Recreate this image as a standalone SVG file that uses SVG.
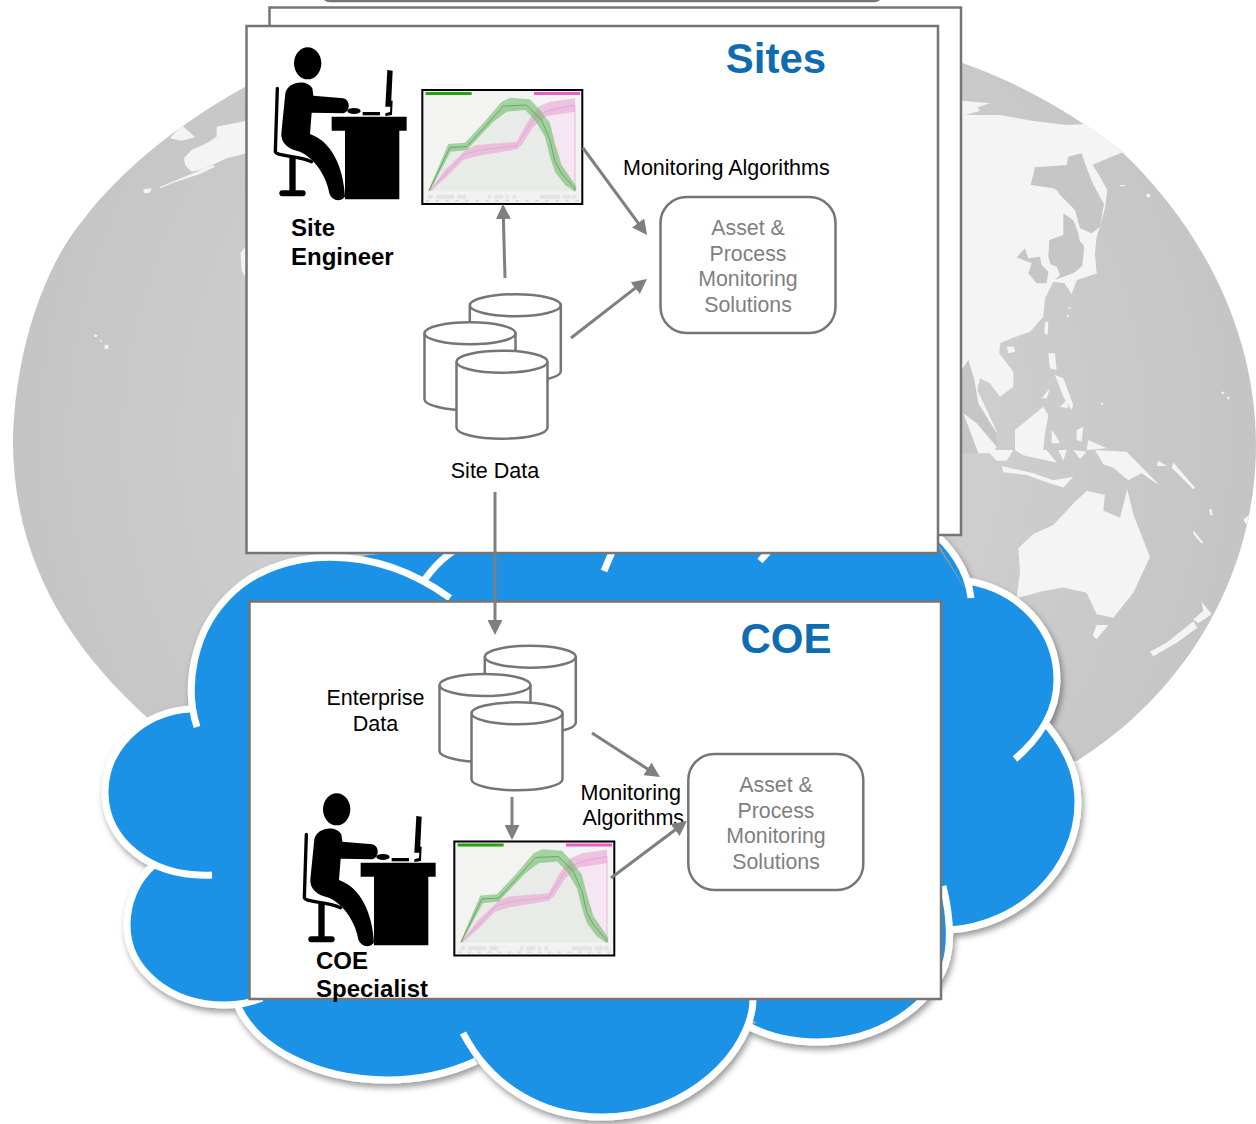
<svg xmlns="http://www.w3.org/2000/svg" xmlns:xlink="http://www.w3.org/1999/xlink" width="1256" height="1124" viewBox="0 0 1256 1124">
<style>
text{font-family:"Liberation Sans",Arial,sans-serif}
.lbl{font-size:21.5px;fill:#000}
.mid{text-anchor:middle}
.grey{font-size:21.3px;fill:#7f7f7f;text-anchor:middle}
.bold{font-size:24px;font-weight:bold;fill:#000}
.title{font-size:42px;font-weight:bold;fill:#0f6cb0;text-anchor:middle}
.panel{fill:#fff;stroke:#757575;stroke-width:2.5}
.soln{fill:#fff;stroke:#757575;stroke-width:2.5}
.cyl{fill:#fff;stroke:#757575;stroke-width:2.5}
.arrow{fill:none;stroke:#7f7f7f;stroke-width:3;marker-end:url(#head)}
.land{fill:#f4f4f4}
.sea{fill:#c6c6c6}
.arc{fill:none;stroke:#fff;stroke-width:7}
.k{fill:none;stroke:#000;stroke-linecap:round;stroke-linejoin:round}
</style>
<defs>
<marker id="head" markerUnits="userSpaceOnUse" markerWidth="15" markerHeight="15" refX="7" refY="7.5" orient="auto"><path d="M0,0L15,7.5L0,15z" fill="#7f7f7f"/></marker>
<radialGradient id="globeFill" gradientUnits="userSpaceOnUse" cx="635" cy="440" r="630"><stop offset="0" stop-color="#d6d6d6"/><stop offset=".6" stop-color="#cdcdcd"/><stop offset="1" stop-color="#c4c4c4"/></radialGradient>
<clipPath id="globeClip"><path id="globePath" d="M13,440C15,350 45,265 83,220C125,165 185,120 245,87L600,30L960,62C1025,85 1075,115 1120,150C1200,225 1256,330 1256,445C1256,570 1190,690 1077,761L150,720C60,640 13,550 13,440z"/></clipPath>
<filter id="shadow" x="-5%" y="-5%" width="110%" height="110%"><feDropShadow dx="2" dy="4" stdDeviation="3" flood-color="#000" flood-opacity=".4"/></filter>
<g id="cylinder"><path class="cyl" d="M-45.5,0V66A45.5,11 0 0 0 45.5,66V0"/><ellipse class="cyl" rx="45.5" ry="11"/></g>
<g id="person">
<ellipse cx="143" cy="100" rx="41" ry="48"/>
<path class="k" stroke-width="10" d="M52,175L46,365C50,380 110,375 155,395"/>
<path d="M88,380H107V490H88z"/>
<path class="k" stroke-width="18" d="M67,490H128"/>
<path d="M76,190C82,155 140,145 157,175L160,197L250,205C272,210 272,245 250,250L155,248L150,312C215,335 250,410 255,500C240,518 215,512 208,490C200,440 165,385 120,365C85,358 62,340 64,310z"/>
<path d="M215,260H440V302H418V508H255V302H215z"/>
<path d="M382,120L398,122L393,230L376,230z"/>
<path d="M392,212L398,212L396,255L376,258L376,250L390,246z"/>
<path d="M308,246H360V256H308z"/>
<ellipse cx="282" cy="243" rx="20" ry="9"/>
</g>
<g id="chart">
<rect x="487" y="180" width="480" height="342" fill="#f3f4f2" stroke="#000" stroke-width="6"/>
<path d="M505,484L568,352L620,350L735,225L800,225L850,280L880,380L900,420L948,484z" fill="#e8ebe7"/>
<path d="M850,235L945,225V485L900,430L880,380z" fill="#f5e7f1"/>
<path d="M497,186H635V195H497z" fill="#27a012"/>
<path d="M822,186H960V195H822z" fill="#e95fc4"/>
<path d="M945,225V485" fill="none" stroke="#ecb4dc" stroke-width="3"/>
<path d="M508,482L555,420L620,358L650,345L770,335L800,280L835,230L870,215L945,205L945,245L860,258L820,290L785,345L770,358L650,378L610,390L560,440L512,484z" fill="#e9a2d6" fill-opacity=".6"/>
<path d="M505,482L565,342L615,338L670,280L725,215L750,203L810,208L840,240L870,280L885,340L905,405L950,470L945,485L915,465L885,425L870,380L855,320L825,270L795,240L740,245L700,275L620,360L572,365L510,482z" fill="#6fbb69" fill-opacity=".6"/>
<path d="M510,478L560,430L610,375L650,362L770,347L800,300L830,255L880,238L945,225" fill="none" stroke="#d87cc4" stroke-width="2" stroke-opacity=".5"/>
<path d="M507,482L570,352L620,350L670,295L730,228L800,225L845,270L870,330L885,395L905,430L948,480" fill="none" stroke="#35913a" stroke-width="2.500" stroke-opacity=".7"/>
<path d="M497,490H960V516H497z" fill="#f2f2f2"/>
<path d="M505,494H519V506H505zM528,494H582V506H528zM592,494H618V506H592zM684,494H694V506H684zM703,494H730V506H703zM738,494H746V506H738zM758,494H768V506H758zM840,494H900V506H840zM908,494H932V506H908zM936,494H950V506H936z" fill="#e3e3e3"/>
<path d="M497,512H960" stroke="#cfcfcf" stroke-width="3" stroke-dasharray="10 20" fill="none"/>
</g>
</defs>

<g id="globe">
<use xlink:href="#globePath" fill="url(#globeFill)"/>
<g clip-path="url(#globeClip)">
<g transform="translate(0,50) scale(.3333)">
<path class="land" d="M740,212L650,230L650,260L620,280L575,300L552,325L555,345L575,365L610,358L680,325L740,310z"/>
<path class="land" d="M545,225L585,262L545,272L510,265z"/>
<path class="land" d="M478,412L530,390L640,345L645,350L600,372L520,398L482,414zM430,418L455,415L450,428L432,430z"/>
<path class="land" d="M283,853L292,856L290,862L283,860zM300,868L306,872L303,878zM314,884L326,886L324,898L314,896z"/>
<path class="land" d="M740,585L722,610L725,660L740,690z"/>
</g>
<g transform="translate(900,50) scale(.3333)">
<path class="land" d="M186,152L270,160L232,172L240,182L186,198z"/>
<path class="land" d="M180,195L300,195L400,213L500,225L560,222L620,260L672,305L640,318L600,335L578,345L600,380L622,420L616,470L600,530L590,560L585,610L590,670L530,690L515,730L495,700L460,695L435,745L430,800L390,845L335,865L300,880L298,910L340,965L340,1010L300,1040L270,1000L240,985L232,1020L270,1100L292,1150L235,1100L215,1020L205,930L180,980z"/>
<path class="sea" d="M392,405L405,352L500,345L505,320L545,310L555,340L578,400L612,462L600,530L575,550L540,535L525,480L460,415z"/>
<path class="sea" d="M490,490L520,510L540,560L552,590L557,640L520,670L490,680L465,690L445,620L448,570L490,555z"/>
<path class="land" d="M460,415L470,420L535,520L525,520z"/>
<path class="land" d="M533,540L580,560L575,580L555,585L540,575z"/>
<path class="land" d="M552,595L570,600L590,670L530,690L515,732L495,702L545,672z"/>
<path class="sea" d="M350,622L375,595L385,625L420,620L425,645L445,665L440,700L410,700L385,670L395,640z"/>
<path class="land" d="M445,640L470,650L480,675L460,695z"/>
<path class="land" d="M320,890L342,890L345,905L325,910z"/>
<path class="sea" d="M185,960L205,930L222,985L235,1060L290,1150L290,1210L185,1210z"/>
<path class="land" d="M190,1090L230,1120L290,1190L280,1210L235,1210z"/>
<path class="land" d="M345,1140L430,1070L445,1095L435,1150L430,1200L345,1200z"/>
<path class="land" d="M445,910L465,910L470,960L450,955zM435,815L445,815L443,855L433,850z"/>
<path class="land" d="M465,975L490,985L520,1065L515,1080L490,1040zM425,1045L450,1015L440,1045zM480,1070L500,1050L505,1075z"/>
<path class="land" d="M455,1140L470,1160L480,1180L455,1180zM530,1140L550,1130L545,1175L530,1170zM565,1170L620,1195L560,1200z"/>
<path class="land" d="M505,770h6v6h-6zM500,795h6v6h-6zM660,405h14v4h-14zM740,432h10v10h-10zM965,1025h6v8h-6zM982,1040h6v8h-6zM603,1058h6v6h-6z"/>
</g>
<g transform="translate(900,450) scale(.3333,.357)">
<path class="land" d="M260,0L340,0L320,30L290,30zM345,0L440,0L470,35L420,25L370,15zM475,0L500,0L490,30zM520,0L560,5L540,25z"/>
<path class="land" d="M305,45L400,65L460,85L520,75L490,105L440,90L380,70L310,62z"/>
<path class="land" d="M585,0L680,5L780,100L725,65L685,85L640,50L610,40z"/>
<path class="land" d="M775,30L800,45L770,45zM820,35L885,105L880,110L815,50z"/>
<path class="land" d="M355,275L400,235L460,210L520,150L560,115L615,125L610,170L660,190L682,110L700,180L750,300L700,400L640,470L590,460L560,400L490,385L430,395L350,415L360,340z"/>
<path class="land" d="M590,490L625,490L590,530L578,520z"/>
<path class="land" d="M750,565L800,540L880,480L892,498L830,540L760,578zM905,425L935,460L895,485L880,475L910,450z"/>
<path class="land" d="M880,225L910,260L905,262L880,235zM928,165L935,165L938,185L930,180zM1030,195L1050,180L1040,210z"/>
</g>
<path class="land" d="M400,553H450L420,585L400,575z"/>
</g>
</g>

<g id="cloud" filter="url(#shadow)">
<path fill="#1a92e6" d="M190,712L240,600L320,560L470,545L930,535L971,598L1057,680L1047,725L1078,802L950,930L945,965L817,1040L750,1020L602,1115L476,1061L387,1078L236,1002L160,870z
M197,727C185,690 190,630 235,590C280,550 370,540 450,598z
M423,582C435,565 445,555 470,540L500,560z
M930,530C950,545 968,570 971,598z
M968,581C1020,590 1057,630 1057,680C1057,715 1035,742 1015,759z
M1047,725C1068,750 1078,775 1078,802C1078,870 1020,925 950,930z
M943,886C950,915 952,945 945,965C930,1005 880,1042 817,1042C790,1042 770,1037 750,1027z
M753,1000C752,1050 690,1117 602,1117C540,1117 490,1085 463,1033z
M476,1061C450,1073 420,1080 387,1080C320,1080 255,1050 236,1002z
M262,998C250,1003 235,1005 225,1005C170,1005 127,970 127,925C127,905 135,880 155,864z
M212,875C150,878 105,840 105,793C105,745 145,712 190,709z"/>
<path class="arc" d="M197,727C185,690 190,630 235,590C280,550 370,540 450,598"/>
<path class="arc" d="M423,582C435,565 445,555 470,540"/>
<path class="arc" d="M612,552L604,571M768,552L760,561"/>
<path class="arc" d="M930,530C950,545 968,570 971,598"/>
<path class="arc" d="M968,581C1020,590 1057,630 1057,680C1057,715 1035,742 1015,759"/>
<path class="arc" d="M1047,725C1068,750 1078,775 1078,802C1078,870 1020,925 950,930"/>
<path class="arc" d="M943,886C950,915 952,945 945,965C930,1005 880,1042 817,1042C790,1042 770,1037 750,1027"/>
<path class="arc" d="M753,1000C752,1050 690,1117 602,1117C540,1117 490,1085 463,1033"/>
<path class="arc" d="M236,1002C255,1050 320,1080 387,1080C420,1080 450,1073 476,1061"/>
<path class="arc" d="M155,864C135,880 127,905 127,925C127,970 170,1005 225,1005C235,1005 250,1003 262,998"/>
<path class="arc" d="M212,875C150,878 105,840 105,793C105,745 145,712 190,709"/>
</g>

<g id="sites-panels">
<rect class="panel" x="322" y="-20" width="560" height="21" rx="8"/>
<rect class="panel" x="269.500" y="7.500" width="691.500" height="527.500"/>
<rect class="panel" x="246.500" y="26" width="691.500" height="527"/>
<text class="title" x="776" y="73">Sites</text>
</g>
<g id="coe-panel">
<rect class="panel" x="249.500" y="601.500" width="691.500" height="397.500"/>
<text class="title" x="786" y="653">COE</text>
</g>

<g id="site-engineer">
<use xlink:href="#person" transform="translate(260,30) scale(.3333)"/>
<text class="bold" x="291" y="236">Site</text>
<text class="bold" x="291" y="265">Engineer</text>
</g>
<g id="site-chart"><use xlink:href="#chart" transform="translate(260,30) scale(.3333)"/></g>
<g id="site-data">
<use xlink:href="#cylinder" x="515.300" y="305.300"/>
<use xlink:href="#cylinder" x="470" y="333.300"/>
<use xlink:href="#cylinder" x="502" y="361.700"/>
<text class="lbl mid" x="495" y="478">Site Data</text>
</g>
<g id="site-solutions">
<rect class="soln" x="660.500" y="197" width="175" height="136" rx="26"/>
<text class="grey" x="748" y="235">Asset &amp;</text>
<text class="grey" x="748" y="260.500">Process</text>
<text class="grey" x="748" y="286">Monitoring</text>
<text class="grey" x="748" y="312">Solutions</text>
</g>
<text id="site-algorithms" class="lbl" x="623" y="175">Monitoring Algorithms</text>

<g id="coe-specialist">
<use xlink:href="#person" transform="translate(289,776) scale(.3333)"/>
<text class="bold" x="316" y="969">COE</text>
<text class="bold" x="316" y="997">Specialist</text>
</g>
<g id="coe-chart"><use xlink:href="#chart" transform="translate(292,781.500) scale(.3333)"/></g>
<g id="enterprise-data">
<use xlink:href="#cylinder" x="530.300" y="656.700"/>
<use xlink:href="#cylinder" x="485" y="685"/>
<use xlink:href="#cylinder" x="517" y="713.300"/>
<text class="lbl mid" x="375.500" y="705">Enterprise</text>
<text class="lbl mid" x="375.500" y="731">Data</text>
</g>
<g id="coe-solutions">
<rect class="soln" x="688.300" y="754" width="175" height="136" rx="26"/>
<text class="grey" x="776" y="792">Asset &amp;</text>
<text class="grey" x="776" y="818">Process</text>
<text class="grey" x="776" y="843">Monitoring</text>
<text class="grey" x="776" y="869">Solutions</text>
</g>
<g id="coe-algorithms">
<text class="lbl" x="580.500" y="800">Monitoring</text>
<text class="lbl" x="582.500" y="825">Algorithms</text>
</g>

<g id="connectors">
<path class="arrow" d="M505,278L503.200,212"/>
<path class="arrow" d="M583,148L642.300,228.600"/>
<path class="arrow" d="M571,338L640.700,283.900"/>
<path class="arrow" d="M495,492V627"/>
<path class="arrow" d="M592,733L653.300,772.700"/>
<path class="arrow" d="M512,797V832"/>
<path class="arrow" d="M611,878L680.600,825.800"/>
</g>
</svg>
